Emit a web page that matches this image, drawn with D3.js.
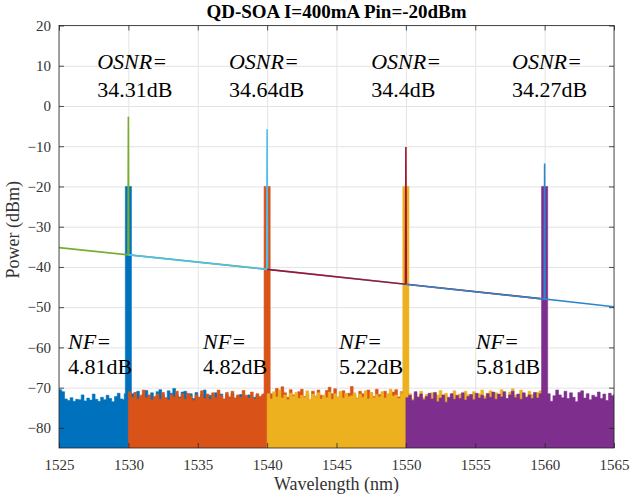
<!DOCTYPE html>
<html>
<head>
<meta charset="utf-8">
<script src="https://cdn.jsdelivr.net/npm/d3@7"></script>
<style>
  html, body { margin: 0; padding: 0; background: #fff; }
  svg { display: block; }
  text { font-family: "Liberation Serif", "Times New Roman", serif; }
</style>
</head>
<body>
<svg id="chart" width="633" height="502"></svg>
<script>
// ---- data ----
const xTicks = [1525, 1530, 1535, 1540, 1545, 1550, 1555, 1560, 1565];
const yTicks = [-80, -70, -60, -50, -40, -30, -20, -10, 0, 10, 20];

const channels = [1530, 1540, 1550, 1560];
const noiseStep = 0.2;

// ASE noise floor of each amplified output spectrum (dBm), sampled every 0.2 nm
const blueStart = 1525;
const blueNoise = [
  -70.5, -71.0, -72.8, -73.2, -72.5, -73.4, -72.9, -73.0, -71.8, -73.3,
  -72.6, -73.1, -71.6, -72.9, -73.4, -72.4, -73.0, -71.9, -72.7, -73.5,
  -72.2, -71.4, -72.8, -73.0, -71.8,
  -71.5, -72.0, -71.2, -70.9, -72.5, -71.6, -70.7, -72.1, -71.3, -72.4,
  -71.0, -70.5, -71.8, -72.6, -70.8, -71.4, -70.2, -71.9, -72.3, -71.1,
  -70.9, -72.0, -71.5, -72.7, -71.2, -72.4, -71.7, -70.6, -72.2, -71.9,
  -72.8, -71.3, -72.5, -71.6, -72.9, -71.9, -72.4, -71.5, -72.6, -72.1,
  -71.7, -72.9, -72.2, -71.8, -73.0, -72.4, -71.9, -72.7, -72.1, -72.5,
  -72.8
];
const orangeStart = 1530;
const orangeNoise = [
  -71.0, -72.4, -71.3, -72.8, -71.9, -70.6, -72.5, -71.8, -73.0, -72.2,
  -71.6, -72.9, -71.2, -72.5, -73.1, -71.7, -72.3, -70.9, -72.6, -71.5,
  -72.8, -71.4, -72.0, -73.2, -71.8, -72.4, -70.8, -72.7, -71.6, -72.9,
  -71.3, -72.5, -70.6, -71.9, -72.8, -71.2, -72.3, -70.9, -72.6, -71.8,
  -72.4, -70.7, -71.9, -72.6, -71.1, -72.8, -71.5, -72.2, -71.7, -72.9,
  -72.0, -70.8, -71.5, -70.2, -71.9, -69.8, -71.3, -72.4, -70.5, -71.8,
  -72.6, -71.0, -70.4, -72.2, -71.6, -73.4, -70.9, -72.1, -70.6, -71.9,
  -72.8, -70.7, -69.9, -71.5, -70.3, -72.4, -71.2, -70.8, -72.5, -71.4,
  -69.7, -71.8, -72.6, -70.9, -71.5, -72.9, -70.6, -71.3, -72.2, -70.4,
  -71.7, -72.5, -70.9, -71.6, -72.8, -71.1, -70.5, -72.3, -71.0, -71.9,
  -72.2
];
const yellowStart = 1540;
const yellowNoise = [
  -71.5, -72.8, -71.0, -72.3, -70.6, -72.6, -71.8, -73.0, -71.4, -72.1,
  -71.2, -72.7, -71.9, -72.4, -70.8, -72.9, -71.6, -72.2, -71.3, -72.8,
  -71.8, -72.5, -71.1, -72.9, -71.5, -72.3, -70.9, -72.6, -71.4, -72.2,
  -72.0, -71.3, -72.7, -71.6, -72.4, -70.8, -72.8, -71.2, -72.5, -71.7,
  -72.3, -71.0, -72.6, -71.5, -70.4, -72.1, -71.8, -72.7, -71.2, -71.9,
  -72.4, -71.1, -72.8, -71.5, -72.2, -70.9, -72.5, -71.7, -73.1, -71.3,
  -72.6, -71.8, -70.7, -72.3, -71.4, -72.9, -71.9, -70.8, -72.4, -71.6,
  -72.1, -70.9, -71.7, -72.5, -71.0, -72.8, -71.5, -70.6, -72.2, -71.4,
  -70.8, -72.6, -71.3, -72.0, -70.5, -71.9, -72.7, -71.1, -70.3, -71.8,
  -72.4, -70.6, -71.5, -72.3, -70.9, -71.7, -72.6, -71.2, -70.8, -71.6,
  -72.0
];
const purpleStart = 1550;
const purpleNoise = [
  -72.5, -71.9, -73.2, -71.0, -72.4, -71.6, -73.0, -72.2, -71.4, -72.8,
  -71.2, -73.5, -72.6, -71.8, -73.6, -72.4, -71.5, -72.9, -71.9, -72.7,
  -71.3, -73.1, -72.2, -71.7, -73.0, -71.4, -72.6, -71.9, -72.8, -71.5,
  -72.4, -71.1, -72.9, -71.6, -72.3, -71.0, -72.7, -71.8, -70.9, -72.5,
  -71.6, -72.9, -71.3, -72.4, -71.8, -72.7, -71.2, -72.6, -71.5, -72.3,
  -72.8, -74.2, -73.4, -72.0, -70.6, -71.8, -72.5, -70.9, -72.7, -71.3,
  -72.4, -73.5, -71.2, -70.8, -72.6, -71.5, -73.0, -71.9, -72.3, -71.1,
  -72.7, -71.6, -73.2, -71.4, -72.0, -71.6
];
const outputPeak = [-20, -20, -20, -20];

// input signal traces: wavelength (nm) and power (dBm)
const greenWl  = [1525, 1529.97, 1530, 1530.03, 1540];
const greenPw  = [-35.2, -37.0, -2.7, -37.0, -40.6];
const cyanWl   = [1530, 1539.97, 1540, 1540.03, 1550];
const cyanPw   = [-37.0, -40.6, -5.8, -40.6, -44.3];
const redWl    = [1540, 1549.97, 1550, 1550.03, 1560];
const redPw    = [-40.6, -44.3, -10.2, -44.3, -48.0];
const blueLnWl = [1550, 1559.97, 1560, 1560.03, 1565];
const blueLnPw = [-44.3, -48.0, -14.3, -48.0, -49.9];

const osnrText = ["34.31dB", "34.64dB", "34.4dB", "34.27dB"];
const nfText   = ["4.81dB", "4.82dB", "5.22dB", "5.81dB"];
const osnrX = [1527.75, 1537.25, 1547.5, 1557.65];
const nfX   = [1525.65, 1535.38, 1545.18, 1555.05];

// ---- layout ----
const svg = d3.select("#chart");
const L = 59, R = 614, T = 25.5, B = 448;
const x = d3.scaleLinear().domain([1525, 1565]).range([L, R]);
const y = d3.scaleLinear().domain([-85, 20]).range([B, T]);
const ink = "#262626";

svg.append("defs").append("clipPath").attr("id", "plotClip")
  .append("rect").attr("x", L).attr("y", T).attr("width", R - L).attr("height", B - T);

// grid
const grid = svg.append("g");
grid.append("g").attr("transform", `translate(0,${B})`)
  .call(d3.axisBottom(x).tickValues(xTicks).tickSize(-(B - T)).tickFormat(""))
  .call(g => g.select(".domain").remove())
  .call(g => g.selectAll("line").attr("stroke", "#e3e3e3"));
grid.append("g").attr("transform", `translate(${L},0)`)
  .call(d3.axisLeft(y).tickValues(yTicks).tickSize(-(R - L)).tickFormat(""))
  .call(g => g.select(".domain").remove())
  .call(g => g.selectAll("line").attr("stroke", "#e3e3e3"));

// build each output spectrum: noise floor with a flat-topped channel peak
function spectrum(start, noise, peakWl, peakPw) {
  const pts = [];
  noise.forEach((v, i) => {
    const wl = +(start + i * noiseStep).toFixed(2);
    if (Math.abs(wl - peakWl) >= 0.3) pts.push([wl, v]);
  });
  pts.push([peakWl - 0.3, -71.5], [peakWl - 0.22, peakPw], [peakWl + 0.22, -71.5]);
  return pts.sort((a, b) => a[0] - b[0]);
}

const spectra = [
  { data: spectrum(blueStart, blueNoise, channels[0], outputPeak[0]), color: "#0072BD" },
  { data: spectrum(orangeStart, orangeNoise, channels[1], outputPeak[1]), color: "#D95319" },
  { data: spectrum(yellowStart, yellowNoise, channels[2], outputPeak[2]), color: "#EDB120" },
  { data: spectrum(purpleStart, purpleNoise, channels[3], outputPeak[3]), color: "#7E2F8E" }
];

const plot = svg.append("g").attr("clip-path", "url(#plotClip)");
const area = d3.area().curve(d3.curveStepAfter)
  .x(d => x(d[0])).y0(y(-85)).y1(d => y(d[1]));
plot.selectAll("path.spec").data(spectra).join("path")
  .attr("class", "spec")
  .attr("d", d => area(d.data))
  .attr("fill", d => d.color)
  .attr("stroke", d => d.color)
  .attr("stroke-width", 0.6);

const traces = [
  { wl: greenWl, pw: greenPw, color: "#77AC30" },
  { wl: cyanWl, pw: cyanPw, color: "#4DBEEE" },
  { wl: redWl, pw: redPw, color: "#A2142F" },
  { wl: blueLnWl, pw: blueLnPw, color: "#2b86cc" }
];
const line = d3.line().x(d => x(d[0])).y(d => y(d[1]));
plot.selectAll("path.trace").data(traces).join("path")
  .attr("class", "trace")
  .attr("d", d => line(d.wl.map((w, i) => [w, d.pw[i]])))
  .attr("fill", "none")
  .attr("stroke", d => d.color)
  .attr("stroke-width", 1.6);

// axes (ticks pointing inward on all four sides)
const axB = svg.append("g").attr("transform", `translate(0,${B})`)
  .call(d3.axisBottom(x).tickValues(xTicks).tickFormat(d3.format("d"))
    .tickSizeInner(-5).tickSizeOuter(0).tickPadding(11));
const axL = svg.append("g").attr("transform", `translate(${L},0)`)
  .call(d3.axisLeft(y).tickValues(yTicks).tickSizeInner(-5).tickSizeOuter(0).tickPadding(8));
const axT = svg.append("g").attr("transform", `translate(0,${T})`)
  .call(d3.axisTop(x).tickValues(xTicks).tickSizeInner(-5).tickSizeOuter(0).tickFormat(""));
const axR = svg.append("g").attr("transform", `translate(${R},0)`)
  .call(d3.axisRight(y).tickValues(yTicks).tickSizeInner(-5).tickSizeOuter(0).tickFormat(""));
[axB, axL, axT, axR].forEach(a => {
  a.select(".domain").remove();
  a.selectAll("line").attr("stroke", ink).attr("stroke-width", 0.8);
  a.selectAll("text").attr("fill", "#333").style("font-size", "15px")
    .style("font-family", '"Liberation Serif", serif');
});
svg.append("rect").attr("x", L).attr("y", T).attr("width", R - L).attr("height", B - T)
  .attr("fill", "none").attr("stroke", ink).attr("stroke-width", 0.8);

// titles
svg.append("text").attr("x", (L + R) / 2).attr("y", 18).attr("text-anchor", "middle")
  .attr("font-weight", "bold").attr("font-size", 19).attr("fill", "#000")
  .text("QD-SOA I=400mA Pin=-20dBm");
svg.append("text").attr("x", (L + R) / 2).attr("y", 490).attr("text-anchor", "middle")
  .attr("font-size", 18).attr("fill", "#333").text("Wavelength (nm)");
svg.append("text").attr("transform", `translate(19,${(T + B) / 2 - 7}) rotate(-90)`)
  .attr("text-anchor", "middle").attr("font-size", 18).attr("fill", "#333").text("Power (dBm)");

// OSNR and NF annotations
const ann = svg.append("g").attr("fill", "#000").attr("font-size", 22);
osnrText.forEach((t, i) => {
  ann.append("text").attr("x", x(osnrX[i])).attr("y", y(9.1))
    .attr("font-style", "italic").text("OSNR=");
  ann.append("text").attr("x", x(osnrX[i])).attr("y", y(2.3)).text(t);
});
nfText.forEach((t, i) => {
  ann.append("text").attr("x", x(nfX[i])).attr("y", y(-60.3))
    .attr("font-style", "italic").text("NF=");
  ann.append("text").attr("x", x(nfX[i])).attr("y", y(-66.7)).text(t);
});
</script>
</body>
</html>
